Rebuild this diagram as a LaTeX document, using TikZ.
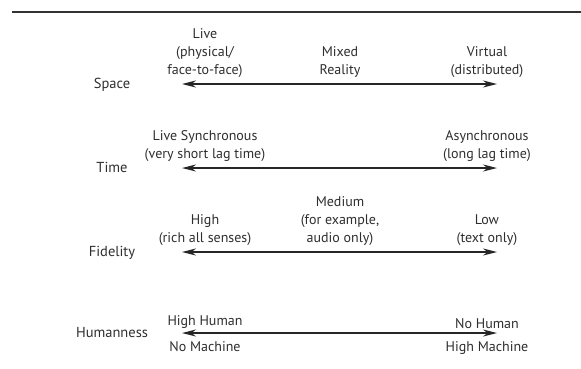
\documentclass[tikz,border=0pt]{standalone}
\usepackage{fontspec}
\setmainfont{PT Sans}
\usetikzlibrary{arrows.meta}
\definecolor{txt}{HTML}{2E2E2E}
\tikzset{
  lbl/.style={anchor=mid, text=txt, inner sep=0pt, font=\fontsize{14.5}{17}\selectfont},
  above/.style={anchor=south, align=center, text=txt, inner sep=0pt, font=\fontsize{14}{18}\selectfont},
  below/.style={anchor=north, align=center, text=txt, inner sep=0pt, font=\fontsize{14}{18}\selectfont},
  dbl/.style={line width=1.7pt, draw=black!85, {Stealth[length=14pt,width=7pt]}-{Stealth[length=14pt,width=7pt]}},
}
\begin{document}
\begin{tikzpicture}[x=1pt,y=-1pt]
\useasboundingbox (0,0) rectangle (581,368);
% top rule
\coordinate (r1) at (12,12);
\coordinate (r2) at (581,12);
\draw[line width=1.3pt, black!80] (r1) -- (r2);

% Space
\coordinate (sL) at (182,84); \coordinate (sR) at (497,84);
\draw[dbl] (sL) -- (sR);
\node[lbl] (space) at (112,86) {Space};
\node[above] (live) at (205,78) {Live\\(physical/\\face-to-face)};
\node[above] (mixed) at (340,78) {Mixed\\Reality};
\node[above] (virtual) at (487,78) {Virtual\\(distributed)};

% Time
\coordinate (tL) at (182,168); \coordinate (tR) at (497,168);
\draw[dbl] (tL) -- (tR);
\node[lbl] (time) at (112,170) {Time};
\node[above] (sync) at (205,162) {Live Synchronous\\(very short lag time)};
\node[above] (async) at (487,162) {Asynchronous\\(long lag time)};

% Fidelity
\coordinate (fL) at (182,252); \coordinate (fR) at (497,252);
\draw[dbl] (fL) -- (fR);
\node[lbl] (fid) at (112,254) {Fidelity};
\node[above] (high) at (205,246) {High\\(rich all senses)};
\node[above] (medium) at (340,246) {Medium\\(for example,\\audio only)};
\node[above] (low) at (487,246) {Low\\(text only)};

% Humanness
\coordinate (hL) at (182,333); \coordinate (hR) at (497,333);
\draw[dbl] (hL) -- (hR);
\node[lbl] (hum) at (112,335) {Humanness};
\node[above] (hh) at (205,329) {High Human};
\node[below] (nm) at (205,341) {No Machine};
\node[above] (nh) at (487,329) {No Human};
\node[below] (hm) at (487,341) {High Machine};
\end{tikzpicture}
\end{document}
